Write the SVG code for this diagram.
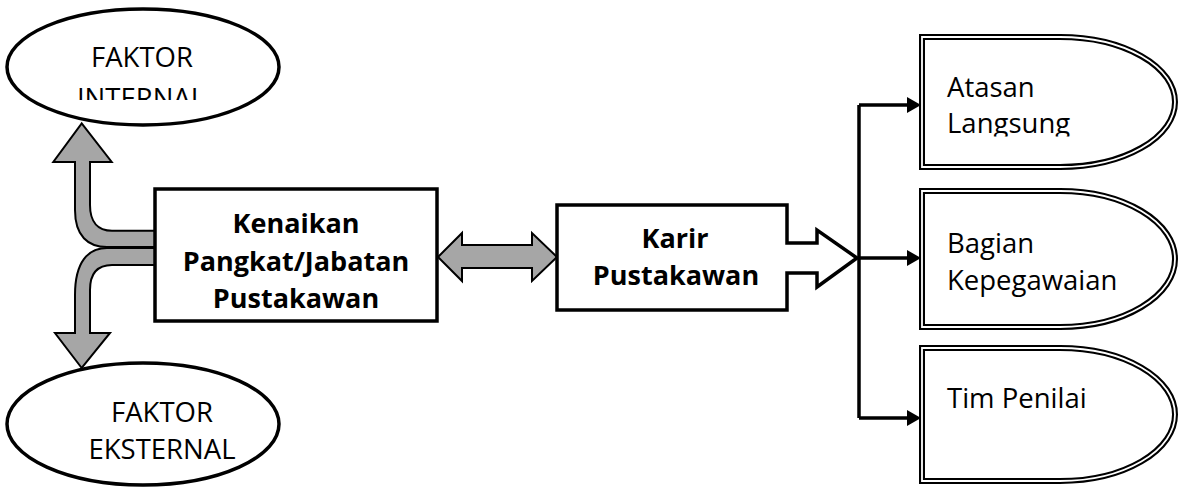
<svg xmlns="http://www.w3.org/2000/svg" width="1183" height="491" viewBox="0 0 1183 491">
<style>
.t{font-family:"Open Sans","Noto Sans","Liberation Sans",sans-serif;font-size:27.5px;fill:#000}
.b{font-weight:bold;font-size:27px}
.ell{fill:#fff;stroke:#000;stroke-width:3.5}
.box{fill:#fff;stroke:#000;stroke-width:3.5}
.gray{fill:#a6a6a6;stroke:#000;stroke-width:2;stroke-linejoin:miter}
.dbl{fill:#fff;stroke:#000;stroke-width:6}
.dbl2{fill:none;stroke:#fff;stroke-width:1.8}
.con{fill:none;stroke:#000;stroke-width:3.5}
</style>
<defs>
<marker id="ah" markerWidth="14" markerHeight="16" refX="0" refY="8" orient="auto" markerUnits="userSpaceOnUse"><path d="M0,0 L14,8 L0,16 Z" fill="#000"/></marker>
<clipPath id="c1"><rect x="0" y="0" width="300" height="100"/></clipPath>
<clipPath id="c2"><rect x="930" y="40" width="200" height="96.5"/></clipPath>
</defs>
<g id="connectors">
<path class="gray" d="M155,230.7 L112,230.7 C98,230.7 90,222 90,205 L90,162 L111.7,162 L81.7,123.3 L53.3,162 L75,162 L75,210 C75,236 88,247 107,247 L155,247 Z"/>
<path class="gray" d="M155,248 L107,248 C88,248 75,262 75,295 L75,333 L55,333 L81.7,368 L110,333 L90,333 L90,290 C90,273 98,265 112,265 L155,265 Z"/>
<path class="gray" d="M438,257 L462,233 L462,245 L532,245 L532,233 L557,257 L532,281 L532,268 L462,268 L462,281 Z"/>
<path class="con" d="M859,105 V418"/>
<path class="con" d="M859,105 H907" marker-end="url(#ah)"/>
<path class="con" d="M859,258 H907" marker-end="url(#ah)"/>
<path class="con" d="M859,418 H907" marker-end="url(#ah)"/>
</g>
<g id="faktor-internal">
<ellipse class="ell" cx="143" cy="67" rx="136" ry="58"/>
<text class="t" x="142" y="67" text-anchor="middle">FAKTOR</text>
<text class="t" x="141" y="108" text-anchor="middle" clip-path="url(#c1)">INTERNAL</text>
</g>
<g id="faktor-eksternal">
<ellipse class="ell" cx="143" cy="424" rx="136" ry="61"/>
<text class="t" x="162" y="422" text-anchor="middle">FAKTOR</text>
<text class="t" x="162" y="459" text-anchor="middle">EKSTERNAL</text>
</g>
<g id="kenaikan">
<rect class="box" x="155" y="189" width="282" height="132"/>
<text class="t b" x="296" y="233" text-anchor="middle">Kenaikan</text>
<text class="t b" x="296" y="270.5" text-anchor="middle">Pangkat/Jabatan</text>
<text class="t b" x="296" y="308" text-anchor="middle">Pustakawan</text>
</g>
<g id="karir">
<path class="box" d="M557,205 H787 V243 H817 V230 L857,258 L817,287 V273 H787 V310 H557 Z"/>
<text class="t b" x="675" y="248" text-anchor="middle">Karir</text>
<text class="t b" x="676" y="285" text-anchor="middle">Pustakawan</text>
</g>
<g id="atasan">
<path class="dbl" d="M922,37 H1060 A115,65 0 0 1 1060,167 H922 Z"/>
<path class="dbl2" d="M922,37 H1060 A115,65 0 0 1 1060,167 H922 Z"/>
<g clip-path="url(#c2)">
<text class="t" x="947" y="97">Atasan</text>
<text class="t" x="947" y="133">Langsung</text>
</g>
</g>
<g id="bagian">
<path class="dbl" d="M922,191 H1060 A115,68 0 0 1 1060,327 H922 Z"/>
<path class="dbl2" d="M922,191 H1060 A115,68 0 0 1 1060,327 H922 Z"/>
<text class="t" x="947" y="253">Bagian</text>
<text class="t" x="947" y="290">Kepegawaian</text>
</g>
<g id="tim">
<path class="dbl" d="M922,348 H1060 A115,66.5 0 0 1 1060,481 H922 Z"/>
<path class="dbl2" d="M922,348 H1060 A115,66.5 0 0 1 1060,481 H922 Z"/>
<text class="t" x="947" y="408">Tim Penilai</text>
</g>
</svg>
